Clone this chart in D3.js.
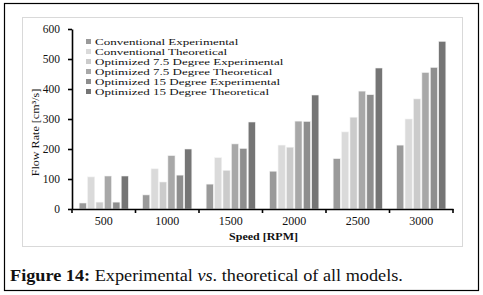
<!DOCTYPE html>
<html>
<head>
<meta charset="utf-8">
<script src="https://cdn.jsdelivr.net/npm/d3@7"></script>
<style>
  body { margin: 0; background: #fff; }
  text { font-family: "Liberation Serif", "Times New Roman", serif; fill: #111; }
</style>
</head>
<body>
<div id="chart"></div>
<script>
const speeds = ["500", "1000", "1500", "2000", "2500", "3000"];
const seriesNames = [
    "Conventional Experimental",
    "Conventional Theoretical",
    "Optimized 7.5 Degree Experimental",
    "Optimized 7.5 Degree Theoretical",
    "Optimized 15 Degree Experimental",
    "Optimized 15 Degree Theoretical"
];
const convExp = [20, 47, 83, 126, 168, 213];
const convTheo = [107, 134, 171, 213, 257, 300];
const opt75Exp = [23, 90, 129, 206, 306, 367];
const opt75Theo = [110, 178, 217, 293, 393, 455];
const opt15Exp = [23, 113, 202, 292, 381, 472];
const opt15Theo = [110, 200, 290, 380, 470, 559];
const yTicks = [0, 100, 200, 300, 400, 500, 600];
const colors = ["#9a9a9a", "#dadada", "#cbcbcb", "#a8a8a8", "#8e8e8e", "#757575"];

const allSeries = [convExp, convTheo, opt75Exp, opt75Theo, opt15Exp, opt15Theo];

const W = 483, H = 295;
const svg = d3.select("#chart").append("svg")
    .attr("width", W).attr("height", H);

// outer figure frame
svg.append("rect")
    .attr("x", 4.5).attr("y", 3.5).attr("width", 474).attr("height", 287)
    .attr("fill", "none").attr("stroke", "#000").attr("stroke-width", 1.2);

// chart panel
svg.append("rect")
    .attr("x", 22.5).attr("y", 17.5).attr("width", 440).attr("height", 229)
    .attr("fill", "#fff").attr("stroke", "#d9d9d9").attr("stroke-width", 1);

const plotLeft = 72, plotRight = 453, plotTop = 29, plotBottom = 209;

const x = d3.scaleBand().domain(speeds).range([plotLeft, plotRight]).padding(0);
const xs = d3.scaleBand().domain(d3.range(6)).range([0, x.bandwidth()])
    .paddingInner(0.15).paddingOuter(0.85);
const y = d3.scaleLinear().domain([0, 600]).range([plotBottom, plotTop]);

// bars
speeds.forEach((s, i) => {
    const g = svg.append("g").attr("transform", `translate(${x(s)},0)`);
    g.selectAll("rect")
        .data(allSeries.map((arr, k) => ({k, v: arr[i]})))
        .enter()
        .append("rect")
        .attr("x", d => xs(d.k))
        .attr("width", xs.bandwidth())
        .attr("y", d => y(d.v))
        .attr("height", d => y(0) - y(d.v))
        .attr("fill", d => colors[d.k])
        .attr("stroke", "#f2f2f2")
        .attr("stroke-width", 0.6);
});

// y axis
const yAxis = svg.append("g")
    .attr("transform", `translate(${plotLeft},0)`)
    .call(d3.axisLeft(y).tickValues(yTicks).tickSize(4).tickPadding(8).tickSizeOuter(0));
yAxis.select(".domain").attr("stroke", "#000").attr("stroke-width", 1.6);
yAxis.selectAll(".tick line").attr("stroke", "#000").attr("stroke-width", 1.6);
yAxis.selectAll("text").attr("font-size", 11.5).attr("font-family", "Liberation Serif")
    .attr("fill", "#111");

// x axis
const xAxis = svg.append("g")
    .attr("transform", `translate(0,${plotBottom})`)
    .call(d3.axisBottom(x).tickSize(0).tickPadding(7).tickSizeOuter(0));
xAxis.select(".domain").attr("stroke", "#000").attr("stroke-width", 1.6);
xAxis.selectAll("text").attr("font-size", 12).attr("font-family", "Liberation Serif")
    .attr("fill", "#111");
// boundary ticks between categories
const bounds = speeds.map(s => x(s)).concat([plotRight]);
xAxis.selectAll(".bound")
    .data(bounds)
    .enter()
    .append("line")
    .attr("x1", d => d).attr("x2", d => d)
    .attr("y1", 0).attr("y2", 4)
    .attr("stroke", "#000").attr("stroke-width", 1.6);

// axis titles
svg.append("text")
    .attr("transform", `translate(39,132.5) rotate(-90) scale(1.1,1)`)
    .attr("text-anchor", "middle")
    .attr("font-size", 11)
    .text("Flow Rate [cm³/s]");

svg.append("text")
    .attr("transform", "translate(263.5,240) scale(1.2,1)")
    .attr("text-anchor", "middle")
    .attr("font-size", 10)
    .attr("font-weight", "bold")
    .text("Speed [RPM]");

// legend
const legend = svg.append("g").attr("transform", "translate(86,42)");
seriesNames.forEach((name, k) => {
    const row = legend.append("g").attr("transform", `translate(0,${k * 10})`);
    row.append("rect").attr("x", 0).attr("y", -3).attr("width", 5).attr("height", 5)
        .attr("fill", colors[k]);
    row.append("text")
        .attr("transform", "translate(9,3.3) scale(1.3,0.88)")
        .attr("font-size", 10)
        .text(name);
});

// caption
const cap = svg.append("text")
    .attr("transform", "translate(10,281) scale(1.14,1)")
    .attr("font-size", 16);
cap.append("tspan").attr("font-weight", "bold").text("Figure 14:");
cap.append("tspan").text(" Experimental ");
cap.append("tspan").attr("font-style", "italic").text("vs");
cap.append("tspan").text(". theoretical of all models.");
</script>
</body>
</html>
